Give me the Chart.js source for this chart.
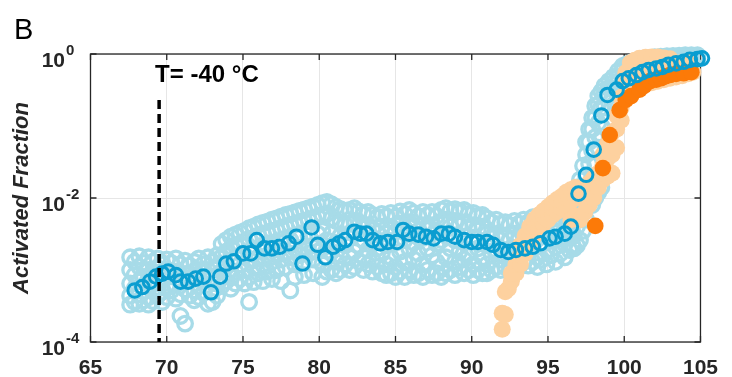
<!DOCTYPE html>
<html>
<head>
<meta charset="utf-8">
<script src="https://cdn.jsdelivr.net/npm/chart.js@4"></script>
<style>
  html, body { margin: 0; padding: 0; background: #fff; }
  #wrap { width: 732px; height: 377px; }
</style>
</head>
<body>
<div id="wrap"><canvas id="grafica" width="732" height="377"></canvas></div>
<script>
// === Datos ===
const xTicks = [65, 70, 75, 80, 85, 90, 95, 100, 105];
const yTicks = [1e-4, 1e-2, 1];
const yTickExp = ["-4", "-2", "0"];

// media (círculos azules oscuros)
const mediaX = [67.9,68.4,68.9,69.3,69.7,70.1,70.6,70.9,71.4,71.9,72.4,72.9,73.5,73.9,74.4,75.0,75.5,75.9,76.4,76.9,
  77.4,78.0,78.5,78.9,79.5,79.9,80.4,80.9,81.3,81.7,82.3,82.7,83.1,83.5,84.0,84.5,85.1,85.5,85.9,86.5,
  87.0,87.5,88.0,88.5,88.9,89.5,90.0,90.4,91.0,91.4,91.9,92.4,92.9,93.5,94.0,94.5,95.1,95.5,96.1,96.5,
  97.0,97.5,98.0,98.5,98.9,99.5,99.9,100.3,100.8,101.2,101.6,102.1,102.5,102.9,103.4,103.9,104.3,104.8,105.1];
const mediaY = [5.2e-4,5.8e-4,6.9e-4,8.1e-4,8.9e-4,9.5e-4,8.5e-4,6.9e-4,6.9e-4,7.6e-4,8.1e-4,4.9e-4,8.1e-4,1.23e-3,1.32e-3,1.7e-3,1.7e-3,2.6e-3,2.0e-3,2.0e-3,
  2.1e-3,2.35e-3,2.9e-3,1.23e-3,3.9e-3,2.24e-3,1.5e-3,2.1e-3,2.35e-3,2.6e-3,3.4e-3,3.2e-3,3.2e-3,2.6e-3,2.35e-3,2.45e-3,2.45e-3,3.6e-3,3.2e-3,3.1e-3,
  2.9e-3,2.75e-3,3.2e-3,3.2e-3,2.9e-3,2.6e-3,2.45e-3,2.45e-3,2.45e-3,2.24e-3,1.9e-3,1.78e-3,1.9e-3,2.0e-3,2.1e-3,2.35e-3,2.75e-3,2.9e-3,3.2e-3,4.0e-3,
  1.15e-2,2.1e-2,4.7e-2,1.4e-1,2.7e-1,3.2e-1,4.2e-1,4.6e-1,5.1e-1,5.6e-1,6.0e-1,6.3e-1,6.6e-1,7.1e-1,7.4e-1,7.8e-1,8.3e-1,8.5e-1,8.7e-1];

// naranja oscuro (relleno)
const naranjaX = [98.1,98.6,99.05,99.7,100.1,100.45,101.0,101.3,101.7,102.1,102.4,102.7,103.0,103.4,103.9,104.4];
const naranjaY = [4.1e-3,2.6e-2,7.5e-2,1.66e-1,2.3e-1,2.6e-1,3.2e-1,3.6e-1,4.2e-1,4.4e-1,4.6e-1,4.9e-1,5.1e-1,5.3e-1,5.4e-1,5.6e-1];

// naranja claro (columnas: x -> valores y)
const naranjaClaroX = [92.0,92.2,92.4,92.6,92.9,93.2,93.5,93.8,94.1,94.4,94.7,95.0,95.3,95.6,95.9,96.2,96.5,96.8,97.1,97.4,
  97.7,98.0,98.3,98.6,98.9,99.2,99.5,99.8,100.1,100.4,100.7,101.0,101.4,101.8,102.2,102.6,103.0,103.4,103.8,104.2,104.5];
const naranjaClaroY = [
  [1.5e-4,2.5e-4],[2.4e-4,5e-4],[5.5e-4],[7e-4,9e-4],[9e-4,1.2e-3],[1.2e-3,1.6e-3,2.2e-3],[1.7e-3,2.4e-3,3.0e-3],
  [2.4e-3,3.2e-3,4.0e-3],[3.0e-3,4.0e-3,5.0e-3],[3.6e-3,4.8e-3,5.8e-3],[4.4e-3,5.6e-3,6.6e-3],[5.0e-3,6.4e-3,7.5e-3],
  [5.8e-3,7.2e-3,8.5e-3],[6.5e-3,8.0e-3,9.5e-3],[7.2e-3,9.0e-3,1.05e-2],[8.0e-3,1.0e-2,1.2e-2],[5e-3,9e-3,1.3e-2],
  [5.6e-3,1.0e-2,1.4e-2],[5e-3,1.0e-2],[6.3e-3,1.25e-2],[8e-3,1.6e-2],[1.0e-2,1.9e-2],
  [1.4e-2,2.2e-2],[1.8e-2,2.8e-2,4e-2],[2e-2,3.5e-2,5.6e-2],[2.2e-2,4e-2,8e-2],
  [5e-2,9e-2,1.4e-1],[1.2e-1,1.8e-1,2.5e-1],[2.5e-1,4e-1,5.5e-1],[3.2e-1,5e-1,7.5e-1],
  [3.5e-1,5.5e-1,8.2e-1],[3.5e-1,5.8e-1,8.7e-1],[3.8e-1,6e-1,9e-1],[4e-1,6.3e-1,9.1e-1],
  [4.2e-1,6.6e-1,9.1e-1],[4.4e-1,7e-1,8.8e-1],[4.6e-1,7.2e-1,8.6e-1],[4.8e-1,7.4e-1],[5e-1,7.6e-1],[5.3e-1,7.8e-1],[5.6e-1]
];

// azul claro (columnas: x -> valores y)
const azulClaroX = [
  67.6,67.9,68.2,68.5,68.8,69.1,69.4,69.7,70.0,70.3,70.6,70.9,71.2,71.5,71.8,72.1,72.4,72.7,73.0,73.3,
  73.6,73.9,74.2,74.5,74.8,75.1,75.4,75.7,76.0,76.3,76.6,76.9,77.2,77.5,77.8,78.1,78.4,78.7,79.0,79.3,79.6,79.9,
  80.2,80.5,80.8,81.1,81.4,81.7,82.0,82.3,82.6,82.9,83.2,83.5,83.8,84.1,84.4,84.7,85.0,85.3,85.6,85.9,
  86.2,86.5,86.8,87.1,87.4,87.7,88.0,88.3,88.6,88.9,89.2,89.5,89.8,90.1,90.4,90.7,91.0,91.3,91.6,91.9,
  92.2,92.5,92.8,93.1,93.4,93.7,94.0,94.3,94.6,94.9,95.2,95.5,95.8,96.1,96.4,96.6,
  96.7,96.9,97.1,97.3,97.5,97.7,97.9,98.1,98.3,98.5,98.7,99.0,99.3,99.6,
  99.9,100.2,100.5,100.8,101.1,101.4,101.7,102.0,102.4,102.8,103.2,103.6,104.0,104.4,104.8];
const azulClaroY = [
  [1.5e-3,1.0e-3,6.5e-4,4.4e-4,3.3e-4],[1.3e-3,8.5e-4,5.5e-4,3.6e-4],[1.55e-3,1.1e-3,7e-4,4.6e-4,3.4e-4],[1.25e-3,8e-4,5e-4,3.8e-4],
  [1.5e-3,1.0e-3,6.2e-4,4.2e-4,3.3e-4],[1.3e-3,8.8e-4,5.4e-4,3.7e-4],[1.45e-3,1.05e-3,6.6e-4,4.4e-4],[1.2e-3,7.5e-4,5e-4,3.6e-4],
  [1.4e-3,1.0e-3,6e-4,4.2e-4],[1.25e-3,8.2e-4,5.2e-4],[1.45e-3,9.5e-4,6.2e-4,4e-4],[1.2e-3,7.2e-4,4.6e-4,2.3e-4],
  [1.35e-3,8.8e-4,5.4e-4,1.8e-4],[1.15e-3,7e-4,4.4e-4],[1.3e-3,8.5e-4,5.2e-4,3.8e-4],[1.45e-3,1.0e-3,6e-4,4.2e-4],
  [1.2e-3,7.5e-4,4.8e-4],[1.5e-3,1.0e-3,6.2e-4,3.4e-4],[1.3e-3,8e-4,5e-4,3.6e-4],[1.6e-3,1.1e-3,6.5e-4,4.4e-4],
  [2.3e-3,1.5e-3,9.5e-4,6e-4],[2.6e-3,1.8e-3,1.1e-3,7e-4],[2.9e-3,2.0e-3,1.3e-3,8e-4,5.5e-4],[3.1e-3,2.2e-3,1.5e-3,9.5e-4,6.5e-4],
  [3.3e-3,2.3e-3,1.2e-3,7.5e-4],[3.5e-3,2.5e-3,1.6e-3,1.0e-3,6.5e-4],[3.8e-3,2.7e-3,1.4e-3,8e-4,3.6e-4],[4.0e-3,2.8e-3,1.8e-3,1.1e-3,6.8e-4],
  [4.3e-3,3.0e-3,1.5e-3,9e-4],[4.5e-3,3.2e-3,2.0e-3,1.2e-3,7e-4],[4.7e-3,3.3e-3,1.6e-3,9.5e-4],[5.0e-3,3.5e-3,2.2e-3,1.3e-3,7.5e-4],
  [5.2e-3,3.6e-3,1.7e-3,1.0e-3],[5.5e-3,3.8e-3,2.4e-3,1.4e-3,7e-4],[5.8e-3,4.0e-3,1.8e-3,1.1e-3],[6.0e-3,4.2e-3,2.6e-3,1.5e-3,5.2e-4],
  [6.3e-3,4.4e-3,2.0e-3,1.2e-3,8e-4],[6.6e-3,4.6e-3,2.8e-3,1.6e-3],[6.9e-3,4.8e-3,2.1e-3,1.3e-3,8.5e-4],[7.2e-3,5.0e-3,3.0e-3,1.7e-3],
  [7.6e-3,5.2e-3,2.2e-3,1.4e-3,9e-4],[8.0e-3,5.5e-3,3.2e-3,1.8e-3],
  [8.5e-3,5.8e-3,3.5e-3,2.0e-3,1.2e-3,8e-4],[8.8e-3,6.0e-3,2.6e-3,1.5e-3,9.5e-4],[8.2e-3,5.2e-3,3.2e-3,1.8e-3,1.0e-3],[7.5e-3,4.8e-3,2.4e-3,1.3e-3,9e-4],
  [7.0e-3,4.5e-3,3.0e-3,1.6e-3,1.0e-3],[6.6e-3,4.2e-3,2.2e-3,1.2e-3],[6.8e-3,4.4e-3,2.8e-3,1.5e-3,1.0e-3],[7.2e-3,4.8e-3,3.2e-3,1.8e-3,1.1e-3],
  [6.5e-3,4.2e-3,2.2e-3,1.3e-3],[6.0e-3,3.8e-3,2.6e-3,1.5e-3,1.0e-3],[6.4e-3,4.2e-3,1.9e-3,1.2e-3],[5.8e-3,3.6e-3,2.4e-3,1.4e-3,9.5e-4],
  [5.4e-3,3.3e-3,2.0e-3,1.1e-3],[6.0e-3,4.0e-3,1.7e-3,9e-4],[5.6e-3,3.2e-3,2.2e-3,1.2e-3,8.5e-4],[6.2e-3,4.0e-3,1.5e-3,9e-4],
  [5.5e-3,3.4e-3,2.4e-3,1.1e-3,8e-4],[6.5e-3,4.4e-3,1.8e-3,9.5e-4],[6.0e-3,3.8e-3,2.6e-3,1.3e-3,8e-4],[6.8e-3,4.6e-3,2.0e-3,1.0e-3],
  [6.2e-3,4.0e-3,2.4e-3,1.4e-3,8.5e-4],[5.6e-3,3.5e-3,1.7e-3,9e-4],[6.4e-3,4.2e-3,2.8e-3,1.2e-3,8e-4],[5.8e-3,3.6e-3,2.0e-3,1.0e-3],
  [6.4e-3,4.2e-3,1.6e-3,8.5e-4],[5.6e-3,3.3e-3,2.3e-3,1.3e-3,9e-4],[6.8e-3,4.6e-3,2.6e-3,1.1e-3,8e-4],[7.2e-3,5.0e-3,3.0e-3,1.5e-3,9e-4],
  [6.6e-3,4.0e-3,2.0e-3,1.0e-3],[7.0e-3,4.8e-3,2.6e-3,1.3e-3,8.5e-4],[6.6e-3,4.2e-3,1.8e-3,1.1e-3],[6.8e-3,4.6e-3,2.4e-3,1.4e-3,9e-4],
  [6.0e-3,3.8e-3,1.7e-3,1.0e-3],[6.2e-3,4.2e-3,2.8e-3,1.2e-3,8.5e-4],[5.6e-3,3.6e-3,2.0e-3,1.0e-3],[5.8e-3,4.0e-3,1.5e-3,9e-4],
  [5.2e-3,3.2e-3,2.2e-3,1.2e-3,9e-4],[4.6e-3,2.8e-3,1.6e-3,1.0e-3],[5.0e-3,3.0e-3,1.9e-3,1.1e-3],[4.4e-3,2.6e-3,1.4e-3,1.0e-3],
  [4.6e-3,3.0e-3,1.8e-3,1.1e-3],[4.2e-3,2.6e-3,1.5e-3,1.1e-3],[4.8e-3,3.2e-3,2.0e-3,1.2e-3],[4.4e-3,2.8e-3,1.6e-3,1.1e-3],
  [5.0e-3,3.4e-3,1.3e-3],[4.6e-3,2.9e-3,1.8e-3,1.15e-3],[5.4e-3,3.5e-3,2.2e-3,1.3e-3],[4.8e-3,3.0e-3,1.5e-3,1.1e-3],
  [5.6e-3,3.6e-3,2.4e-3,1.4e-3],[5.0e-3,3.2e-3,1.9e-3,1.2e-3],[5.8e-3,3.8e-3,2.6e-3,1.6e-3],[5.2e-3,3.4e-3,2.1e-3,1.3e-3],
  [6.0e-3,4.0e-3,2.8e-3,1.7e-3],[5.5e-3,3.6e-3,2.3e-3,1.5e-3],[6.5e-3,4.4e-3,3.0e-3,1.9e-3],[8.0e-3,5.0e-3,3.4e-3,2.2e-3],
  [2.0e-3,3e-3,5e-3,9e-3],[2.2e-3,4e-3,8e-3,1.4e-2],[2.6e-3,5e-3,1.0e-2,1.8e-2],[3.5e-3,7e-3,1.4e-2,2.8e-2],
  [5e-3,1.0e-2,2.0e-2,4.0e-2,6.0e-2],[1.4e-2,3.0e-2,6.0e-2,9.0e-2],[8e-3,2.0e-2,4.5e-2,9.0e-2,1.3e-1],
  [1.0e-2,3.0e-2,7.0e-2,1.3e-1,1.9e-1],[1.2e-2,5.0e-2,1.1e-1,2.0e-1,2.6e-1],[1.4e-2,1.0e-1,1.8e-1,3.0e-1],
  [1.8e-1,2.8e-1,3.6e-1],[2.6e-1,3.4e-1,4.2e-1],[3.2e-1,4.0e-1,4.8e-1],[4.0e-1,4.8e-1,5.8e-1],
  [4.8e-1,5.8e-1,6.8e-1],[5.2e-1,6.3e-1,7.3e-1],[5.6e-1,6.7e-1,7.7e-1],[6.0e-1,7.0e-1,8.0e-1],[6.3e-1,7.3e-1,8.3e-1],
  [6.5e-1,7.6e-1,8.6e-1],[6.8e-1,7.9e-1,8.8e-1],[7.0e-1,8.1e-1,9.0e-1],[7.3e-1,8.3e-1,9.2e-1],[7.6e-1,8.5e-1,9.3e-1],
  [7.8e-1,8.7e-1,9.4e-1],[8.0e-1,8.9e-1,9.5e-1],[8.2e-1,9.0e-1,9.6e-1],[8.4e-1,9.1e-1,9.6e-1],[8.6e-1,9.2e-1,9.6e-1]
];

// línea vertical T = -40 °C
const lineaT = 69.5;
const lineaTY = [0.23, 1e-4];

const fuente = "'Liberation Sans', Arial, sans-serif";
const gris = "#262626";

function columnasAPuntos(xs, ys) {
    return xs.flatMap((x, i) => ys[i].map(y => ({ x, y })));
}
function pares(xs, ys) {
    return xs.map((x, i) => ({ x, y: ys[i] }));
}

// === Marco, marcas y textos estilo MATLAB ===
const marcoPlugin = {
    id: "marco",
    beforeDatasetsDraw(chart) {
        const { ctx, chartArea: a, scales: { x, y } } = chart;
        ctx.save();
        ctx.strokeStyle = gris;
        ctx.lineWidth = 1.3;
        ctx.strokeRect(a.left, a.top, a.right - a.left, a.bottom - a.top);
        ctx.beginPath();
        xTicks.forEach(v => {
            const px = x.getPixelForValue(v);
            ctx.moveTo(px, a.bottom); ctx.lineTo(px, a.bottom - 6);
            ctx.moveTo(px, a.top); ctx.lineTo(px, a.top + 6);
        });
        yTicks.forEach(v => {
            const py = y.getPixelForValue(v);
            ctx.moveTo(a.left, py); ctx.lineTo(a.left + 6, py);
            ctx.moveTo(a.right, py); ctx.lineTo(a.right - 6, py);
        });
        ctx.stroke();
        ctx.restore();
    },
    afterDraw(chart) {
        const { ctx, scales: { x, y } } = chart;
        ctx.save();
        ctx.fillStyle = gris;
        // etiquetas 10^n
        yTicks.forEach((v, i) => {
            const py = y.getPixelForValue(v);
            ctx.font = "bold 21px " + fuente;
            ctx.textAlign = "right";
            ctx.textBaseline = "alphabetic";
            ctx.fillText("10", 65, py + 13);
            ctx.font = "bold 15px " + fuente;
            ctx.textAlign = "left";
            ctx.fillText(yTickExp[i], 66, py + 1);
        });
        // anotación
        ctx.fillStyle = "#000";
        ctx.font = "bold 24px " + fuente;
        ctx.textAlign = "left";
        ctx.fillText("T= -40 °C", x.getPixelForValue(lineaT) - 4, 82);
        // letra del panel
        ctx.font = "29px " + fuente;
        ctx.fillText("B", 14, 39);
        ctx.restore();
    }
};

new Chart(document.getElementById("grafica"), {
    type: "scatter",
    data: {
        datasets: [
            {
                type: "line",
                data: lineaTY.map(y => ({ x: lineaT, y })),
                borderColor: "#000",
                borderWidth: 3.5,
                borderDash: [9, 5],
                pointRadius: 0,
                fill: false,
                clip: false
            },
            {
                data: pares(mediaX, mediaY),
                pointRadius: 6.8,
                borderWidth: 3,
                borderColor: "#0a9dd0",
                backgroundColor: "rgba(0,0,0,0)",
                clip: false
            },
            {
                data: pares(naranjaX, naranjaY),
                pointRadius: 8.3,
                borderWidth: 0,
                backgroundColor: "#fc7a08",
                borderColor: "#fc7a08",
                clip: false
            },
            {
                data: columnasAPuntos(naranjaClaroX, naranjaClaroY),
                pointRadius: 8.5,
                borderWidth: 0,
                backgroundColor: "#fdd19f",
                borderColor: "#fdd19f",
                clip: false
            },
            {
                data: columnasAPuntos(azulClaroX, azulClaroY),
                pointRadius: 7.3,
                borderWidth: 3.3,
                borderColor: "#a7dbe8",
                backgroundColor: "rgba(0,0,0,0)",
                clip: false
            }
        ]
    },
    options: {
        responsive: false,
        animation: false,
        devicePixelRatio: 1,
        layout: { padding: { top: 54, right: 20, left: 0, bottom: 0 } },
        plugins: {
            legend: { display: false },
            tooltip: { enabled: false }
        },
        scales: {
            x: {
                type: "linear",
                min: 65,
                max: 105,
                afterBuildTicks: s => { s.ticks = xTicks.map(v => ({ value: v })); },
                ticks: {
                    color: gris,
                    padding: 14,
                    font: { family: fuente, size: 21, weight: "bold" }
                },
                grid: { color: "#e6e6e6", drawTicks: false },
                border: { display: false },
                afterFit: s => { s.height = 35; }
            },
            y: {
                type: "logarithmic",
                min: 1e-4,
                max: 1,
                afterBuildTicks: s => { s.ticks = yTicks.map(v => ({ value: v })); },
                ticks: { display: false },
                grid: { color: "#e6e6e6", drawTicks: false },
                border: { display: false },
                title: {
                    display: true,
                    text: "Activated Fraction",
                    color: gris,
                    padding: { top: 9, bottom: 0 },
                    font: { family: fuente, size: 22, weight: "bold", style: "italic" }
                },
                afterFit: s => { s.width = 90.5; }
            }
        }
    },
    plugins: [marcoPlugin]
});
</script>
</body>
</html>
